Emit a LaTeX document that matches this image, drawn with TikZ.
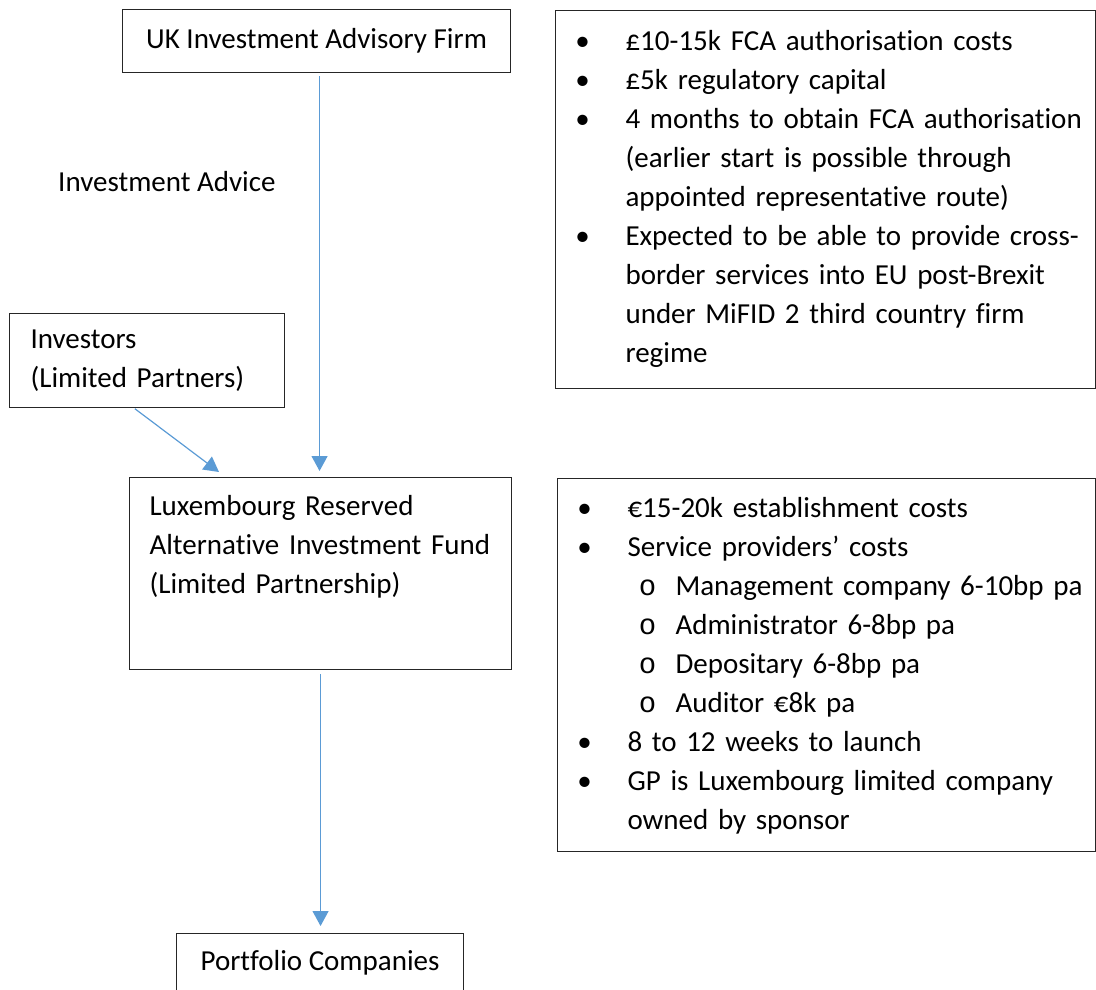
\documentclass[tikz,border=0pt]{standalone}
\usepackage{fontspec}
\setmainfont{Carlito}[Ligatures=NoCommon]
\newfontfamily\subfont{Liberation Mono}
\usetikzlibrary{arrows.meta}

\definecolor{arrowblue}{HTML}{5B9BD5}

% bullet lines inside the cost boxes
\newcommand{\bul}{\makebox[54pt]{\textbullet}\hspace*{16pt}}
\newcommand{\cont}{\hspace*{70pt}}
\newcommand{\subbul}{\hspace*{70pt}\makebox[40pt]{\subfont o}\hspace*{8pt}}

\begin{document}
\begin{tikzpicture}[x=1pt,y=-1pt,
  every node/.style={font=\fontsize{29}{39}\selectfont},
  box/.style={draw=black!85,line width=1.1pt,inner sep=0pt,anchor=north west},
  flow/.style={draw=arrowblue,line width=1.2pt,-{Triangle[width=16pt,length=15pt]}}]

\useasboundingbox (0,0) rectangle (1096,989);

% structure boxes on the left
\node[box,minimum width=388pt,minimum height=63pt] (uk) at (122,9) {UK Investment Advisory Firm};
\node[anchor=base west,inner sep=0pt] (advice) at (58,191) {Investment Advice};
\node[box,text width=233pt,inner xsep=21pt,minimum height=94pt,align=left] (inv) at (9,313)
  {Investors\\(Limited Partners)};
\node[box,text width=342pt,inner xsep=20pt,inner ysep=10pt,align=left] (lux) at (129,477)
  {\rule{0pt}{28pt}Luxembourg Reserved\\Alternative Investment Fund\\(Limited Partnership)\rule[-66pt]{0pt}{66pt}};
\node[box,minimum width=287pt,inner ysep=9pt] (port) at (176,933)
  {\rule{0pt}{28pt}Portfolio Companies\rule[-30pt]{0pt}{30pt}};

% cost boxes on the right
\node[box,text width=540pt,inner ysep=12pt,align=left] (fca) at (555,10)
  {\rule{0pt}{28pt}\bul £10-15k FCA authorisation costs\\
   \bul £5k regulatory capital\\
   \bul 4 months to obtain FCA authorisation\\
   \cont (earlier start is possible through\\
   \cont appointed representative route)\\
   \bul Expected to be able to provide cross-\\
   \cont border services into EU post-Brexit\\
   \cont under MiFID 2 third country firm\\
   \cont regime\rule[-14pt]{0pt}{14pt}};
\node[box,text width=538pt,inner ysep=12pt,align=left] (raif) at (557,478)
  {\rule{0pt}{27pt}\bul €15-20k establishment costs\\
   \bul Service providers’ costs\\
   \subbul Management company 6-10bp pa\\
   \subbul Administrator 6-8bp pa\\
   \subbul Depositary 6-8bp pa\\
   \subbul Auditor €8k pa\\
   \bul 8 to 12 weeks to launch\\
   \bul GP is Luxembourg limited company\\
   \cont owned by sponsor\rule[-10pt]{0pt}{10pt}};

% arrows
\coordinate (ukout) at ([xshift=3pt]uk.south);
\draw[flow,shorten <=3pt,shorten >=6pt] (ukout) -- (ukout |- lux.north);
\draw[flow,shorten <=1pt] ([xshift=-13pt]inv.south) -- ([xshift=90pt,yshift=5pt]lux.north west);
\draw[flow,shorten <=4pt,shorten >=7pt] (lux.south) -- (lux.south |- port.north);

\end{tikzpicture}
\end{document}
